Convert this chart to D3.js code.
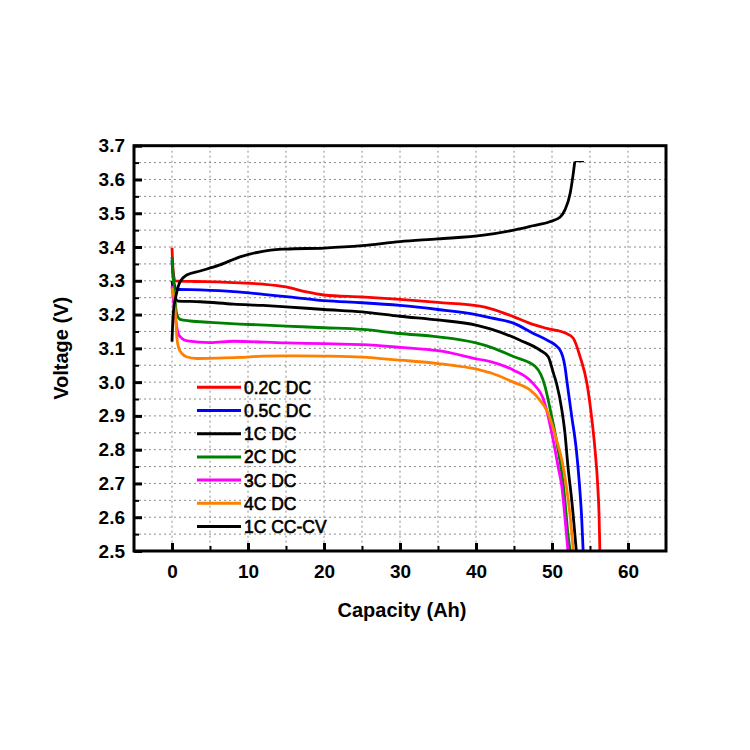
<!DOCTYPE html>
<html><head><meta charset="utf-8">
<script src="https://cdn.jsdelivr.net/npm/d3@7"></script>
<style>body{margin:0;background:#fff}svg{display:block}</style>
</head><body>
<svg id="chart" width="750" height="750"></svg>
<script>
// ---------- data ----------
const seriesNames = ["0.2C DC","0.5C DC","1C DC","2C DC","3C DC","4C DC","1C CC-CV"];
const seriesColors = ["#ff0000","#0000ff","#000000","#008000","#ff00ff","#ff8000","#000000"];

const dc02 = [[0,3.398],[0.15,3.33],[0.4,3.300],[3,3.298],[6,3.297],[9,3.294],[12,3.290],[15,3.282],[17.7,3.267],[20,3.258],[25,3.252],[30,3.245],[35,3.236],[40.5,3.225],[42,3.217],[44.9,3.194],[47.1,3.174],[49.3,3.159],[51.9,3.144],[52.8,3.13],[53.7,3.075],[54.6,2.996],[55.1,2.917],[55.66,2.80],[56.0,2.70],[56.2,2.60],[56.3,2.50]];
const dc05 = [[0,3.36],[0.2,3.30],[0.6,3.275],[3.7,3.273],[8.1,3.268],[12,3.26],[15,3.253],[20,3.241],[25,3.235],[30,3.227],[35,3.215],[40,3.200],[42,3.19],[45,3.174],[47.5,3.145],[49.3,3.125],[51.05,3.095],[51.7,3.046],[52.0,2.996],[52.6,2.898],[53.2,2.80],[53.6,2.70],[53.9,2.60],[54.1,2.50]];
const dc1 = [[0,3.30],[0.3,3.26],[0.8,3.240],[3.7,3.238],[8.1,3.231],[12,3.227],[15,3.223],[20,3.215],[25,3.208],[30,3.195],[35,3.184],[40,3.169],[42,3.157],[45.8,3.124],[48.4,3.095],[49.5,3.075],[50.2,3.026],[50.6,2.996],[51.3,2.917],[51.7,2.85],[52.1,2.75],[52.6,2.65],[53.2,2.50]];
const dc2 = [[0,3.371],[0.3,3.27],[0.6,3.204],[1.05,3.186],[2.4,3.181],[5,3.177],[8.9,3.172],[15,3.166],[20,3.161],[25,3.156],[30,3.144],[35,3.134],[40,3.116],[42,3.103],[45,3.075],[47.8,3.046],[49.1,2.986],[49.5,2.947],[49.96,2.898],[50.4,2.85],[50.8,2.80],[51.3,2.73],[51.7,2.65],[52.1,2.55],[52.4,2.50]];
const dc3 = [[0,3.284],[0.4,3.20],[0.8,3.145],[1.28,3.13],[2,3.122],[5,3.117],[8.1,3.121],[15,3.116],[20,3.114],[25,3.111],[30,3.103],[35,3.093],[40.5,3.067],[42,3.06],[44.9,3.036],[47.5,2.996],[48.9,2.947],[49.5,2.898],[49.96,2.85],[50.4,2.80],[50.8,2.75],[51.3,2.69],[51.7,2.60],[52.1,2.50]];
const dc4 = [[0,3.28],[0.4,3.22],[0.65,3.13],[0.9,3.10],[1.3,3.085],[1.9,3.075],[3.25,3.070],[6,3.071],[8.9,3.073],[12,3.077],[15,3.078],[20,3.077],[25,3.074],[30,3.065],[35,3.055],[40.5,3.036],[42,3.027],[44.9,3.0],[47.1,2.977],[48.4,2.947],[49.3,2.917],[49.96,2.878],[50.6,2.829],[51.3,2.769],[51.9,2.69],[52.4,2.60],[52.8,2.50]];
const chg1 = [[0,3.12],[0.17,3.204],[0.6,3.263],[1.05,3.297],[1.93,3.317],[3.7,3.329],[6.3,3.347],[8.95,3.371],[11.6,3.386],[13,3.391],[15,3.394],[20,3.397],[25,3.404],[30,3.416],[35,3.424],[41,3.435],[45.4,3.452],[47.5,3.463],[49.7,3.475],[51.05,3.488],[51.7,3.51],[52.4,3.56],[52.8,3.618],[53.0,3.653],[54.2,3.653]];
const seriesData = [dc02, dc05, dc1, dc2, dc3, dc4, chg1];

const xMajor = [0,10,20,30,40,50,60];
const xMinor = [5,15,25,35,45,55];
const yMajor = [2.5,2.6,2.7,2.8,2.9,3.0,3.1,3.2,3.3,3.4,3.5,3.6,3.7];
const yMinor = [2.55,2.65,2.75,2.85,2.95,3.05,3.15,3.25,3.35,3.45,3.55,3.65];
const xTitle = "Capacity (Ah)";
const yTitle = "Voltage (V)";

// ---------- drawing ----------
const svg = d3.select("#chart");
const L=134, R=666, T=145.7, B=551;
const x = d3.scaleLinear().domain([-5,65]).range([L,R]);
const y = d3.scaleLinear().domain([2.5,3.7]).range([B,T]);
const font = "Arial, 'Liberation Sans', sans-serif";

// grid
const grid = svg.append("g").attr("stroke","#8c8c8c").attr("stroke-width",1).attr("stroke-dasharray","2,3");
grid.selectAll("line.gx").data(xMajor.concat(xMinor)).join("line")
  .attr("x1",d=>x(d)).attr("x2",d=>x(d)).attr("y1",T).attr("y2",B);
grid.selectAll("line.gy").data(yMajor.concat(yMinor).filter(v=>v>2.5&&v<3.7)).join("line")
  .attr("y1",d=>y(d)).attr("y2",d=>y(d)).attr("x1",L).attr("x2",R);

// curves
const line = d3.line().x(d=>x(d[0])).y(d=>y(d[1])).curve(d3.curveMonotoneX);
const clip = svg.append("clipPath").attr("id","clip").append("rect")
  .attr("x",L).attr("y",T).attr("width",R-L).attr("height",B-T);
const curves = svg.append("g").attr("clip-path","url(#clip)");
seriesData.forEach((s,i)=>{
  const isChg = i===seriesData.length-1;
  const pts = isChg ? s.slice(0,-1) : s;
  curves.append("path").datum(pts).attr("d",line).attr("fill","none")
    .attr("stroke",seriesColors[i]).attr("stroke-width",2.8).attr("stroke-linejoin","round");
  if(isChg){
    curves.append("path").datum(s.slice(-2)).attr("d",d3.line().x(d=>x(d[0])).y(d=>y(d[1])))
      .attr("fill","none").attr("stroke",seriesColors[i]).attr("stroke-width",1.2);
  }
});

// axes
const ax = svg.append("g").attr("transform",`translate(0,${B})`)
  .call(d3.axisBottom(x).tickValues(xMajor).tickSize(-8).tickPadding(14).tickFormat(d3.format("d")));
const axm = svg.append("g").attr("transform",`translate(0,${B})`)
  .call(d3.axisBottom(x).tickValues(xMinor).tickSize(-5).tickFormat(""));
const ay = svg.append("g").attr("transform",`translate(${L},0)`)
  .call(d3.axisLeft(y).tickValues(yMajor).tickSize(-8).tickPadding(9).tickFormat(d3.format(".1f")));
const aym = svg.append("g").attr("transform",`translate(${L},0)`)
  .call(d3.axisLeft(y).tickValues(yMinor).tickSize(-5).tickFormat(""));
[ax,axm,ay,aym].forEach(g=>g.select(".domain").remove());
[ax,ay].forEach(g=>g.selectAll(".tick line").attr("stroke","#000").attr("stroke-width",3));
[axm,aym].forEach(g=>g.selectAll(".tick line").attr("stroke","#000").attr("stroke-width",2));
[ax,ay].forEach(g=>g.selectAll(".tick text").attr("fill","#000").style("font-family",font)
  .style("font-size","19px").style("font-weight","bold"));

// frame
svg.append("rect").attr("x",L).attr("y",T).attr("width",R-L).attr("height",B-T)
  .attr("fill","none").attr("stroke","#000").attr("stroke-width",3);

// titles
svg.append("text").attr("x",(L+R)/2+2).attr("y",617).attr("text-anchor","middle")
  .style("font-family",font).style("font-size","20px").style("font-weight","bold").text(xTitle);
svg.append("text").attr("transform",`translate(68,${(T+B)/2}) rotate(-90)`).attr("text-anchor","middle")
  .style("font-family",font).style("font-size","20px").style("font-weight","bold").text(yTitle);

// legend
const lg = svg.append("g");
seriesNames.forEach((n,i)=>{
  const yy = 387.3 + i*23.2;
  lg.append("line").attr("x1",197).attr("x2",241).attr("y1",yy).attr("y2",yy)
    .attr("stroke",seriesColors[i]).attr("stroke-width",3);
  lg.append("text").attr("x",244).attr("y",yy+6.5)
    .style("font-family",font).style("font-size","17.5px").style("font-weight","normal")
    .attr("stroke","#000").attr("stroke-width",0.6).text(n);
});
</script>
</body></html>
